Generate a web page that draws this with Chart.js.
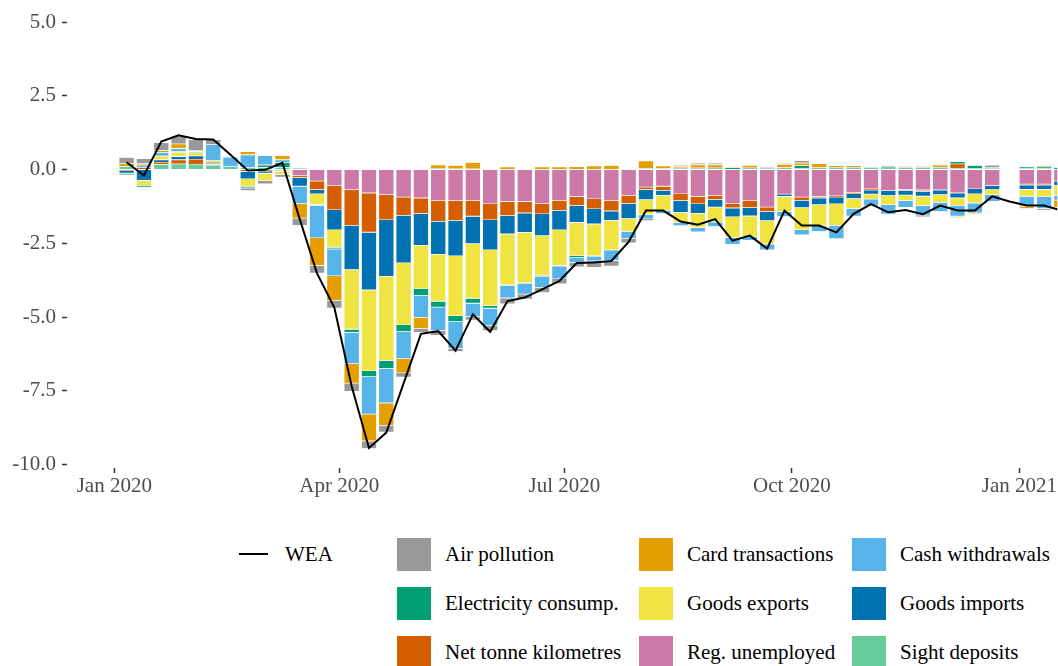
<!DOCTYPE html>
<html>
<head>
<meta charset="utf-8">
<script src="https://cdn.jsdelivr.net/npm/chart.js@4.4.1/dist/chart.umd.min.js"></script>
<style>
  body { margin: 0; background: #fff; width: 1058px; height: 666px; overflow: hidden; position: relative;
         font-family: "Liberation Serif", "Times New Roman", serif; }
  #chart { position: absolute; left: 0; top: 0; }
  .legend { position: absolute; left: 236px; top: 529.5px; display: grid;
            grid-template-columns: 161px 242px 213px 220px; grid-template-rows: repeat(3, 49.3px); }
  .item { display: flex; align-items: center; font-size: 21px; color: #000; white-space: nowrap; }
  .key { width: 34px; height: 33px; margin-right: 14px; flex: none; }
  .key.line { display: flex; align-items: center; justify-content: center; margin-right: 15px; }
  .key.line::after { content: ""; width: 29px; height: 2px; background: #000; }
</style>
</head>
<body>
<canvas id="chart" width="1058" height="502"></canvas>
<div class="legend" id="legend"></div>
<script>
/* Weekly economic activity (WEA) and its component contributions, 2020 */

const weeks = [
  "2020-01-06", "2020-01-13", "2020-01-20", "2020-01-27",
  "2020-02-03", "2020-02-10", "2020-02-17", "2020-02-24",
  "2020-03-02", "2020-03-09", "2020-03-16", "2020-03-23", "2020-03-30",
  "2020-04-06", "2020-04-13", "2020-04-20", "2020-04-27",
  "2020-05-04", "2020-05-11", "2020-05-18", "2020-05-25",
  "2020-06-01", "2020-06-08", "2020-06-15", "2020-06-22", "2020-06-29",
  "2020-07-06", "2020-07-13", "2020-07-20", "2020-07-27",
  "2020-08-03", "2020-08-10", "2020-08-17", "2020-08-24", "2020-08-31",
  "2020-09-07", "2020-09-14", "2020-09-21", "2020-09-28",
  "2020-10-05", "2020-10-12", "2020-10-19", "2020-10-26",
  "2020-11-02", "2020-11-09", "2020-11-16", "2020-11-23", "2020-11-30",
  "2020-12-07", "2020-12-14", "2020-12-21", "2020-12-28",
  "2021-01-04", "2021-01-11", "2021-01-18",
];

const tickDates = ["2020-01-01", "2020-04-01", "2020-07-01", "2020-10-01", "2021-01-01"];
const tickLabels = ["Jan 2020", "Apr 2020", "Jul 2020", "Oct 2020", "Jan 2021"];
const yTicks = [-10, -7.5, -5, -2.5, 0, 2.5, 5];

const airPollution = [
  0.20, 0.17, 0.27, 0.26, 0.37, 0.17, 0, -0.09, -0.11, -0.08,
  -0.25, -0.26, -0.27, -0.28, -0.26, -0.23, -0.15, -0.14, -0.17, -0.11,
  -0.12, -0.17, -0.20, -0.17, -0.17, -0.17, -0.15, -0.22, -0.19, -0.15,
  -0.06, -0.02, 0.03, 0.06, 0.06, 0.03, 0.03, 0.04, 0.04, 0.08,
  0, 0, 0, 0, 0.03, 0, -0.06, 0.03, 0.03, 0,
  0.08, null, 0, -0.05, 0,
];
const cardTransactions = [
  0.10, 0.05, 0.06, 0.16, 0, 0, 0, 0.11, 0, 0.14,
  -0.49, -0.94, -0.83, -0.67, -0.91, -0.76, -0.48, -0.37, 0.12, 0.12,
  0.22, 0, 0.08, 0, 0.08, 0.08, 0.09, 0.11, 0.13, 0,
  0.25, 0.08, 0.06, 0.11, 0.11, 0.04, 0.08, 0, 0.11, 0.09,
  0.14, 0.06, 0.06, 0, -0.03, 0.04, 0.04, 0.08, -0.05, -0.03,
  0, null, -0.08, 0.04, -0.25,
];
const cashWithdrawals = [
  0, 0.08, 0.10, 0.11, 0.03, 0.54, 0.31, 0.43, 0.32, 0.09,
  -0.59, -1.10, -0.91, -1.05, -1.27, -1.17, -0.92, -0.74, -0.79, -0.91,
  -0.45, -0.59, -0.42, -0.36, -0.37, -0.43, -0.17, -0.15, -0.34, -0.22,
  -0.15, -0.11, -0.11, -0.15, -0.15, -0.23, -0.14, -0.20, -0.17, -0.17,
  -0.20, -0.45, -0.26, -0.23, -0.32, -0.23, -0.32, -0.31, -0.37, -0.34,
  -0.23, null, -0.34, -0.40, -0.15,
];
const electricity = [
  -0.06, -0.06, 0.03, 0.02, 0.04, 0, 0, -0.06, 0.08, 0.17,
  0, -0.03, -0.06, -0.11, -0.20, -0.27, -0.23, -0.23, -0.20, -0.20,
  -0.17, -0.09, -0.02, -0.03, -0.05, -0.02, -0.06, -0.02, -0.02, -0.02,
  0.02, 0.02, 0.03, 0.03, 0.04, 0.05, 0.04, 0.03, 0.04, 0.10,
  0.04, 0.05, 0.05, 0.05, 0.06, 0.05, 0.05, 0.05, 0.08, 0.10,
  0.03, null, 0.06, 0.06, 0.06,
];
const goodsExports = [
  0, -0.17, 0.12, 0.14, 0.11, 0.05, 0, -0.25, -0.25, -0.11,
  0, -0.36, -0.59, -2.02, -2.74, -2.85, -2.10, -1.47, -1.59, -2.03,
  -1.85, -1.89, -1.73, -1.70, -1.34, -1.21, -1.13, -1.08, -1.00, -0.43,
  -0.50, -0.51, -0.34, -0.48, -0.51, -0.70, -0.69, -0.79, -0.51, -0.75,
  -0.71, -0.73, -0.34, -0.17, -0.31, -0.19, -0.32, -0.26, -0.25, -0.31,
  -0.17, null, -0.23, -0.25, -0.35,
];
const goodsImports = [
  -0.08, -0.37, 0.08, 0.11, 0.11, 0.03, 0, -0.25, -0.07, 0,
  -0.29, -0.14, -0.68, -1.50, -1.96, -1.92, -1.61, -1.08, -1.12, -1.19,
  -0.93, -1.02, -0.62, -0.66, -0.74, -0.66, -0.57, -0.51, -0.32, -0.51,
  -0.34, -0.17, -0.40, -0.32, -0.25, -0.30, -0.28, -0.31, -0.08, -0.25,
  -0.23, -0.23, -0.16, -0.14, -0.17, -0.15, -0.17, -0.16, -0.17, -0.17,
  -0.14, null, -0.15, -0.15, -0.14,
];
const netTonneKm = [
  -0.05, 0.08, 0.08, 0.14, 0.17, 0.05, 0, -0.07, -0.06, -0.04,
  -0.08, -0.29, -0.83, -1.21, -1.33, -0.85, -0.62, -0.53, -0.71, -0.68,
  -0.54, -0.54, -0.48, -0.39, -0.36, -0.34, -0.31, -0.34, -0.36, -0.28,
  -0.09, -0.14, -0.23, -0.25, -0.15, -0.16, -0.25, -0.15, 0, -0.11,
  -0.05, -0.04, -0.05, -0.04, 0, -0.03, -0.04, 0, 0.15, 0,
  0, null, -0.03, -0.03, 0,
];
const regUnemployed = [
  0, 0, 0, 0, 0, 0.02, 0, 0, 0, -0.03,
  -0.20, -0.40, -0.54, -0.69, -0.80, -0.86, -0.94, -0.97, -1.05, -1.06,
  -1.05, -1.17, -1.09, -1.09, -1.15, -1.05, -0.92, -1.00, -1.05, -0.88,
  -0.60, -0.57, -0.83, -0.92, -0.88, -1.15, -1.05, -1.28, -0.84, -0.94,
  -0.92, -0.90, -0.78, -0.66, -0.72, -0.69, -0.70, -0.70, -0.80, -0.66,
  -0.55, null, -0.50, -0.50, -0.40,
];
const sightDeposits = [
  0.12, 0, 0.18, 0.20, 0.19, 0.16, 0.12, 0.08, 0.08, 0.08,
  0.05, 0, 0, 0, 0, 0, 0.03, 0.03, 0.05, 0.03,
  0.03, 0.03, 0.02, 0.02, 0.02, 0.02, 0.02, 0.02, 0.02, 0.03,
  0.03, 0.03, 0.03, 0.03, 0.02, 0.02, 0.02, 0.03, 0.03, 0.04,
  0.03, 0.03, 0.03, 0.03, 0.03, 0.03, 0.03, 0.03, 0.05, 0.05,
  0.05, null, 0.04, 0.04, 0.02,
];
const wea = [
  0.25, -0.20, 0.95, 1.16, 1.04, 1.02, 0.50, -0.03, -0.01, 0.23,
  -1.68, -3.52, -4.68, -7.35, -9.44, -8.92, -7.25, -5.57, -5.48, -6.14,
  -4.91, -5.50, -4.46, -4.34, -4.06, -3.78, -3.17, -3.15, -3.10, -2.45,
  -1.39, -1.39, -1.76, -1.87, -1.68, -2.41, -2.24, -2.68, -1.39, -1.90,
  -1.90, -2.13, -1.50, -1.17, -1.45, -1.37, -1.51, -1.22, -1.39, -1.39,
  -0.91, -1.08, -1.22, -1.22, -1.39,
];

// factor order (alphabetical); ggplot stacks the first level farthest from zero
const series = [
  { label: "Air pollution", data: airPollution, color: "#999999" },
  { label: "Card transactions", data: cardTransactions, color: "#E69F00" },
  { label: "Cash withdrawals", data: cashWithdrawals, color: "#56B4E9" },
  { label: "Electricity consump.", data: electricity, color: "#009E73" },
  { label: "Goods exports", data: goodsExports, color: "#F0E442" },
  { label: "Goods imports", data: goodsImports, color: "#0072B2" },
  { label: "Net tonne kilometres", data: netTonneKm, color: "#D55E00" },
  { label: "Reg. unemployed", data: regUnemployed, color: "#CC79A7" },
  { label: "Sight deposits", data: sightDeposits, color: "#66CC99" },
];

const DAY0 = Date.parse("2020-01-01");
const dayOf = (d) => (Date.parse(d) - DAY0) / 864e5;
const points = (vals) => weeks.map((w, i) => ({ x: dayOf(w), y: vals[i] }));

const axisFont = { family: "'Liberation Serif', 'Times New Roman', serif", size: 21 };

// Chart.js stacks the first dataset next to zero, so reverse the factor order
const barSets = series.slice().reverse().map((s) => ({
  type: "bar",
  label: s.label,
  data: points(s.data),
  backgroundColor: s.color,
  borderColor: "rgba(255,255,255,0.55)",
  borderWidth: 0.6,
  stack: "contrib",
  order: 1,
  barPercentage: 0.9,
  categoryPercentage: 1,
}));

const lineSet = {
  type: "line",
  label: "WEA",
  data: points(wea),
  borderColor: "#000",
  borderWidth: 2,
  pointRadius: 0,
  tension: 0,
  stack: "wea",
  order: 0,
};

new Chart(document.getElementById("chart"), {
  type: "bar",
  data: { datasets: [lineSet, ...barSets] },
  options: {
    responsive: false,
    animation: false,
    layout: { padding: 0 },
    plugins: { legend: { display: false }, tooltip: { enabled: false } },
    scales: {
      x: {
        type: "linear",
        stacked: true,
        offset: false,
        min: -19.11,
        max: 381.35,
        afterBuildTicks: (scale) => { scale.ticks = tickDates.map((d) => ({ value: dayOf(d) })); },
        afterFit: (scale) => { scale.height = 34; },
        ticks: {
          callback: (v, i) => tickLabels[i],
          autoSkip: false, maxRotation: 0, padding: 1,
          color: "#4d4d4d", font: axisFont,
        },
        grid: { offset: false, drawOnChartArea: false, tickLength: 5, tickColor: "#333", tickWidth: 1.5 },
        border: { display: false },
      },
      y: {
        stacked: true,
        min: -10.12,
        max: 5.12,
        afterBuildTicks: (scale) => { scale.ticks = yTicks.map((v) => ({ value: v })); },
        afterFit: (scale) => { scale.width = 67; },
        ticks: {
          callback: (v) => v.toFixed(1),
          padding: 6, color: "#4d4d4d", font: axisFont,
        },
        grid: { drawOnChartArea: false, tickLength: 5, tickColor: "#333", tickWidth: 1.5 },
        border: { display: false },
      },
    },
  },
});

// legend: WEA on its own, then the components filled row by row in three columns
const legend = document.getElementById("legend");
const addItem = (label, col, row, color) => {
  const el = document.createElement("div");
  el.className = "item";
  el.style.gridColumn = col;
  el.style.gridRow = row;
  const key = document.createElement("span");
  key.className = color ? "key" : "key line";
  if (color) key.style.background = color;
  el.appendChild(key);
  el.appendChild(document.createTextNode(label));
  legend.appendChild(el);
};
addItem("WEA", 1, 1, null);
series.forEach((s, i) => addItem(s.label, 2 + (i % 3), 1 + Math.floor(i / 3), s.color));
</script>
</body>
</html>
